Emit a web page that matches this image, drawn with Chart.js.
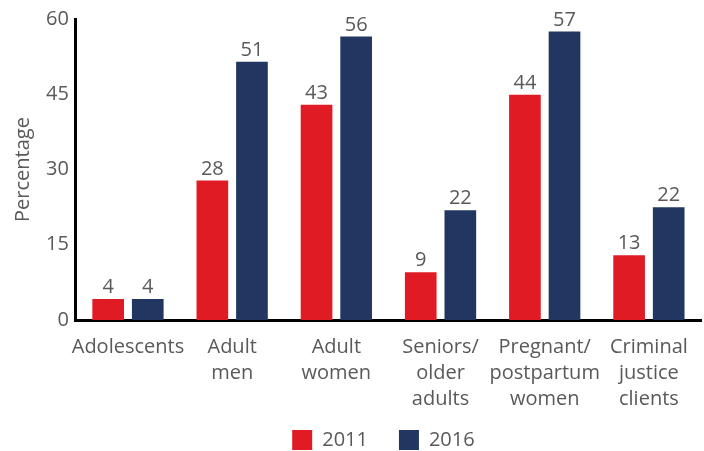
<!DOCTYPE html>
<html>
<head>
<meta charset="utf-8">
<script src="https://cdn.jsdelivr.net/npm/chart.js@4"></script>
<style>
html,body{margin:0;padding:0;background:#fff;}
#wrap{width:704px;height:451px;position:relative;}
</style>
</head>
<body>
<div id="wrap"><canvas id="c" width="704" height="451"></canvas></div>
<script>
const categories = ["Adolescents", ["Adult","men"], ["Adult","women"], ["Seniors/","older","adults"], ["Pregnant/","postpartum","women"], ["Criminal","justice","clients"]];
const values2011 = [4.2, 27.8, 42.9, 9.5, 44.9, 12.9];
const values2016 = [4.2, 51.5, 56.5, 21.9, 57.5, 22.5];
const labels2011 = ["4", "28", "43", "9", "44", "13"];
const labels2016 = ["4", "51", "56", "22", "57", "22"];
const yTicks = [0, 15, 30, 45, 60];

const FONT = "'Open Sans', 'Noto Sans', sans-serif";
const TEXT = "#595959";

const valueLabels = {
  id: 'valueLabels',
  afterDatasetsDraw(chart) {
    const ctx = chart.ctx;
    ctx.save();
    ctx.font = "20px " + FONT;
    ctx.fillStyle = TEXT;
    ctx.textAlign = 'center';
    ctx.textBaseline = 'alphabetic';
    chart.data.datasets.forEach((ds, di) => {
      const meta = chart.getDatasetMeta(di);
      meta.data.forEach((el, i) => {
        ctx.fillText(ds.valueLabels[i], el.x, el.y - 6);
      });
    });
    ctx.restore();
  }
};

// Let the legend's top padding overlap the (empty) lower part of the x-axis band,
// and centre it under the plot area
const legendShift = {
  id: 'legendShift',
  afterLayout(chart) {
    const lg = chart.legend;
    if (!lg) return;
    lg.top = chart.height - 52;
    lg.bottom = chart.height;
    lg.height = 52;
    lg.left = chart.chartArea.left - 10;
    lg.right = chart.chartArea.right;
    lg.width = lg.right - lg.left;
  }
};

new Chart(document.getElementById('c'), {
  type: 'bar',
  data: {
    labels: categories,
    datasets: [
      { label: '2011', data: values2011, valueLabels: labels2011, backgroundColor: '#e01b24', categoryPercentage: 0.76, barPercentage: 0.8 },
      { label: '2016', data: values2016, valueLabels: labels2016, backgroundColor: '#213761', categoryPercentage: 0.76, barPercentage: 0.8 }
    ]
  },
  options: {
    responsive: false,
    animation: false,
    devicePixelRatio: 1,
    layout: { padding: { top: 5, right: 3, left: 7, bottom: 0 } },
    plugins: {
      legend: {
        position: 'bottom',
        maxHeight: 39,
        labels: {
          boxWidth: 20, boxHeight: 20, padding: 31,
          color: TEXT,
          font: { family: FONT, size: 20 }
        }
      },
      tooltip: { enabled: false }
    },
    scales: {
      x: {
        grid: { display: false, drawTicks: false },
        border: { display: true, color: '#000', width: 3 },
        ticks: {
          color: TEXT, font: { family: FONT, size: 20, lineHeight: 1.3 },
          maxRotation: 0, minRotation: 0, autoSkip: false, padding: 14
        },
        afterFit(scale) { scale.height = 92; }
      },
      y: {
        min: 0, max: 60,
        afterBuildTicks(axis) { axis.ticks = yTicks.map(v => ({ value: v })); },
        grid: { display: false, drawTicks: false },
        border: { display: true, color: '#000', width: 3 },
        ticks: { color: TEXT, font: { family: FONT, size: 20 }, padding: 7 },
        title: { display: true, text: 'Percentage', color: TEXT, font: { family: FONT, size: 20 }, padding: { bottom: 4 } }
      }
    }
  },
  plugins: [valueLabels, legendShift]
});
</script>
</body>
</html>
